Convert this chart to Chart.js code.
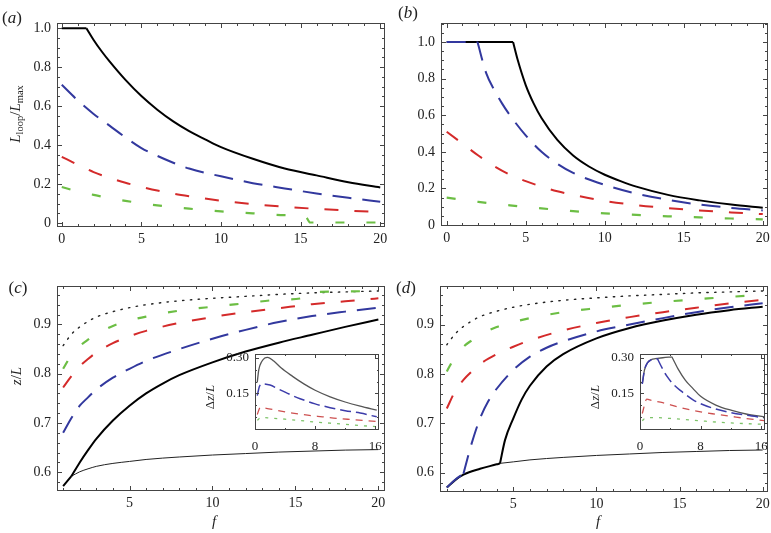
<!DOCTYPE html>
<html>
<head>
<meta charset="utf-8">
<script src="https://cdn.jsdelivr.net/npm/chart.js@4/dist/chart.umd.min.js"></script>
<style>
  body { margin: 0; background: #fff; width: 771px; height: 533px; position: relative; overflow: hidden; font-family: "Liberation Serif", serif; color: #222; }
  canvas { position: absolute; }
  .lbl { position: absolute; white-space: nowrap; transform: translate(-50%, -50%); line-height: 1; }
  .rot { transform: translate(-50%, -50%) rotate(-90deg); }
  sub { font-size: 70%; vertical-align: -0.25em; }
</style>
</head>
<body>
<canvas id="pa" width="388" height="265" style="left:0;top:0"></canvas>
<canvas id="pb" width="383" height="265" style="left:388px;top:0"></canvas>
<canvas id="pc" width="388" height="268" style="left:0;top:265px"></canvas>
<canvas id="pd" width="383" height="268" style="left:388px;top:265px"></canvas>
<canvas id="ic" width="177" height="110" style="left:205px;top:345px"></canvas>
<canvas id="id" width="178" height="110" style="left:590px;top:345px"></canvas>

<div class="lbl" style="left:12px;top:17px;font-size:17px">(<i>a</i>)</div>
<div class="lbl" style="left:408px;top:12px;font-size:17px">(<i>b</i>)</div>
<div class="lbl" style="left:18px;top:287px;font-size:17px">(<i>c</i>)</div>
<div class="lbl" style="left:406px;top:287px;font-size:17px">(<i>d</i>)</div>
<div class="lbl rot" style="left:17px;top:114px;font-size:15px"><i>L</i><sub>loop</sub>/<i>L</i><sub>max</sub></div>
<div class="lbl rot" style="left:16px;top:376px;font-size:15px"><i>z</i>/<i>L</i></div>
<div class="lbl" style="left:214px;top:521px;font-size:15px"><i>f</i></div>
<div class="lbl" style="left:598px;top:521px;font-size:15px"><i>f</i></div>
<div class="lbl rot" style="left:209px;top:397px;font-size:13px">Δ<i>z</i>/<i>L</i></div>
<div class="lbl rot" style="left:594px;top:397px;font-size:13px">Δ<i>z</i>/<i>L</i></div>

<script>
// ---- panel (a): L_loop / L_max vs f ----
const aBlackF = [0, 1.55, 2, 2.5, 3, 4, 5, 6, 7, 8, 9, 10, 12, 14, 16, 18, 20];
const aBlackL = [1, 1, 0.94, 0.882, 0.83, 0.735, 0.652, 0.582, 0.522, 0.472, 0.43, 0.39, 0.33, 0.28, 0.245, 0.21, 0.183];
const aBlueF = [0, 1, 2, 3, 4, 5, 6, 7, 8, 10, 12, 14, 16, 18, 20];
const aBlueL = [0.71, 0.63, 0.56, 0.5, 0.44, 0.385, 0.345, 0.31, 0.28, 0.24, 0.205, 0.178, 0.152, 0.13, 0.11];
const aRedF = [0, 1, 2, 3, 4, 5, 6, 7, 8, 10, 12, 14, 16, 18, 20];
const aRedL = [0.34, 0.3, 0.262, 0.232, 0.207, 0.186, 0.167, 0.151, 0.138, 0.115, 0.097, 0.084, 0.073, 0.064, 0.056];
const aGreenF = [0, 1, 2, 3, 4, 5, 6, 7, 8, 10, 12, 14, 15.3, 15.6, 16, 18, 20];
const aGreenL = [0.185, 0.163, 0.145, 0.128, 0.114, 0.102, 0.091, 0.082, 0.074, 0.06, 0.05, 0.041, 0.034, 0.003, 0.003, 0.003, 0.003];

// ---- panel (b) ----
const bBlackF = [0, 4.2, 4.5, 5, 5.5, 6, 7, 8, 9, 10, 11, 12, 14, 16, 18, 20];
const bBlackL = [1, 1, 0.9, 0.765, 0.665, 0.585, 0.465, 0.38, 0.32, 0.275, 0.24, 0.21, 0.165, 0.135, 0.112, 0.095];
const bBlueF = [0, 1.95, 2.5, 3, 3.5, 4, 5, 6, 7, 8, 10, 12, 14, 16, 18, 20];
const bBlueL = [1, 1, 0.83, 0.74, 0.665, 0.6, 0.49, 0.4, 0.335, 0.285, 0.22, 0.172, 0.138, 0.112, 0.094, 0.08];
const bRedF = [0, 1, 2, 3, 4, 5, 6, 7, 8, 10, 12, 14, 16, 18, 20];
const bRedL = [0.51, 0.445, 0.38, 0.322, 0.275, 0.24, 0.21, 0.185, 0.165, 0.132, 0.109, 0.093, 0.08, 0.069, 0.06];
const bGreenF = [0, 2, 4, 6, 8, 10, 12, 14, 16, 18, 20];
const bGreenL = [0.15, 0.127, 0.108, 0.091, 0.076, 0.064, 0.056, 0.048, 0.042, 0.036, 0.031];

// ---- panel (c): z/L vs f ----
const cF = [1, 1.5, 2, 2.5, 3, 4, 5, 6, 8, 10, 12, 14, 16, 18, 20];
const cDotL = [0.857, 0.88, 0.895, 0.906, 0.915, 0.926, 0.934, 0.94, 0.948, 0.953, 0.957, 0.961, 0.964, 0.966, 0.968];
const cRedL = [0.772, 0.795, 0.815, 0.83, 0.843, 0.862, 0.876, 0.887, 0.903, 0.915, 0.925, 0.933, 0.941, 0.947, 0.953];
const cBlueL = [0.68, 0.71, 0.735, 0.752, 0.768, 0.792, 0.81, 0.826, 0.85, 0.871, 0.889, 0.905, 0.917, 0.926, 0.934];
const cGreenF = [1, 1.5, 2, 2.5, 3, 4, 5, 6, 8, 10, 12, 14, 15.6, 15.9, 18, 20];
const cGreenL = [0.81, 0.838, 0.856, 0.869, 0.88, 0.897, 0.908, 0.916, 0.928, 0.936, 0.943, 0.95, 0.955, 0.965, 0.967, 0.968];
const cBlackF = [1, 1.5, 2, 2.5, 3, 4, 5, 6, 7, 8, 10, 12, 14, 16, 18, 20];
const cBlackL = [0.572, 0.592, 0.62, 0.645, 0.668, 0.705, 0.735, 0.76, 0.78, 0.797, 0.823, 0.845, 0.863, 0.879, 0.895, 0.91];
const cThinF = [1.5, 2, 2.5, 3, 4, 5, 6, 8, 10, 12, 14, 16, 18, 20];
const cThinL = [0.592, 0.601, 0.607, 0.612, 0.618, 0.622, 0.626, 0.631, 0.635, 0.638, 0.641, 0.643, 0.645, 0.646];

// ---- panel (d) ----
const dF = [1, 1.5, 2, 2.5, 3, 4, 5, 6, 8, 10, 12, 14, 16, 18, 20];
const dDotL = [0.859, 0.881, 0.896, 0.907, 0.916, 0.927, 0.935, 0.941, 0.949, 0.954, 0.958, 0.961, 0.964, 0.966, 0.968];
const dGreenL = [0.805, 0.835, 0.855, 0.868, 0.879, 0.895, 0.905, 0.913, 0.925, 0.933, 0.94, 0.946, 0.951, 0.956, 0.96];
const dRedL = [0.73, 0.765, 0.788, 0.805, 0.82, 0.84, 0.855, 0.868, 0.888, 0.903, 0.915, 0.925, 0.934, 0.943, 0.95];
const dBlueF = [1, 1.5, 2, 2.25, 2.5, 3, 3.5, 4, 5, 6, 7, 8, 10, 12, 14, 16, 18, 20];
const dBlueL = [0.57, 0.586, 0.598, 0.63, 0.66, 0.71, 0.745, 0.77, 0.808, 0.835, 0.853, 0.866, 0.886, 0.9, 0.913, 0.925, 0.935, 0.943];
const dBlackF = [1, 1.5, 2, 3, 4, 4.2, 4.5, 5, 5.5, 6, 7, 8, 10, 12, 14, 16, 18, 20];
const dBlackL = [0.57, 0.585, 0.596, 0.608, 0.617, 0.619, 0.666, 0.71, 0.748, 0.776, 0.815, 0.84, 0.872, 0.893, 0.908, 0.92, 0.929, 0.936];
const dThinF = [4.2, 5, 6, 8, 10, 12, 14, 16, 18, 20];
const dThinL = [0.619, 0.622, 0.626, 0.631, 0.635, 0.638, 0.641, 0.643, 0.645, 0.646];

// ---- insets: delta z / L ----
const icBlackF = [0.3, 0.5, 0.9, 1.3, 1.7, 2.5, 3.5, 5, 6.5, 8, 10, 12, 14, 16.2];
const icBlackL = [0.196, 0.25, 0.285, 0.3, 0.303, 0.287, 0.257, 0.222, 0.19, 0.163, 0.135, 0.113, 0.095, 0.078];
const icBlueF = [0.3, 0.6, 1, 2, 3, 4, 5, 6, 8, 10, 12, 14, 16.2];
const icBlueL = [0.14, 0.18, 0.19, 0.185, 0.17, 0.155, 0.14, 0.127, 0.105, 0.089, 0.076, 0.066, 0.05];
const icRedF = [0.3, 0.7, 1.5, 3, 5, 7, 9, 11, 13, 16.2];
const icRedL = [0.06, 0.09, 0.086, 0.077, 0.066, 0.057, 0.05, 0.043, 0.038, 0.03];
const icGreenF = [0.3, 0.8, 2, 4, 6, 8, 10, 12, 14, 16.2];
const icGreenL = [0.035, 0.047, 0.045, 0.04, 0.034, 0.028, 0.023, 0.018, 0.013, 0.008];

const idBlackF = [0.3, 0.6, 1, 1.5, 2, 3, 4.2, 4.6, 5, 6, 7, 8, 10, 12, 14, 16.4];
const idBlackL = [0.19, 0.25, 0.28, 0.293, 0.297, 0.301, 0.305, 0.28, 0.255, 0.205, 0.17, 0.137, 0.1, 0.078, 0.062, 0.05];
const idBlueF = [0.3, 0.6, 1, 1.5, 2.3, 2.8, 3.5, 4.5, 5.5, 7, 8, 10, 12, 14, 16.4];
const idBlueL = [0.19, 0.25, 0.28, 0.293, 0.297, 0.265, 0.225, 0.185, 0.158, 0.122, 0.106, 0.083, 0.068, 0.057, 0.046];
const idRedF = [0.3, 0.9, 1.5, 3, 5, 8, 10, 12, 14, 16.4];
const idRedL = [0.064, 0.125, 0.12, 0.11, 0.092, 0.071, 0.061, 0.052, 0.043, 0.034];
const idGreenF = [0.3, 0.8, 2, 4, 6, 8, 10, 12, 14, 16.4];
const idGreenL = [0.033, 0.047, 0.047, 0.043, 0.038, 0.033, 0.028, 0.024, 0.021, 0.018];

// tick labels
const fTicksTop = [0, 5, 10, 15, 20];
const fTicksBottom = [5, 10, 15, 20];
const loopTicks = [0, 0.2, 0.4, 0.6, 0.8, 1.0];
const zTicks = [0.6, 0.7, 0.8, 0.9];
const insetFTicks = [0, 8, 16];
const insetDzTicks = [0, 0.15, 0.3];

const BLUE = 'rgb(50,56,158)';
const RED = 'rgb(212,42,42)';
const GREEN = 'rgb(108,190,68)';
const FONT = '"Liberation Serif", "Times New Roman", serif';

const black = { borderColor: '#000', borderWidth: 2 };
const thin = { borderColor: '#222', borderWidth: 1 };
const dotted = { borderColor: '#222', borderWidth: 1.4, borderDash: [1.4, 6.4], borderCapStyle: 'round' };
const blue = { borderColor: BLUE, borderWidth: 2, borderDash: [19, 11] };
const red = { borderColor: RED, borderWidth: 2, borderDash: [14, 16] };
const green = { borderColor: GREEN, borderWidth: 2.2, borderDash: [9, 22] };
const iBlack = { borderColor: '#555', borderWidth: 1.3 };
const iBlue = { borderColor: 'rgb(60,60,170)', borderWidth: 1.5, borderDash: [11, 5] };
const iRed = { borderColor: 'rgb(205,80,80)', borderWidth: 1.3, borderDash: [7, 6] };
const iGreen = { borderColor: 'rgb(125,195,105)', borderWidth: 1.3, borderDash: [3, 6] };

// one curve, broken into separate splines at kink indices
function series(fs, ls, style, kinks = []) {
  const cuts = [0, ...kinks, fs.length - 1];
  const out = [];
  for (let i = 0; i < cuts.length - 1; i++) {
    const pts = [];
    for (let j = cuts[i]; j <= cuts[i + 1]; j++) pts.push({ x: fs[j], y: ls[j] });
    out.push(Object.assign({ data: pts, showLine: true, fill: false, pointRadius: 0,
      cubicInterpolationMode: 'monotone' }, style));
  }
  return out;
}

// Mathematica-like frame with inward ticks on all four sides
const frameTicks = {
  id: 'frameTicks',
  beforeDraw(chart, args, opts) {
    if (!opts.fill) return;
    const a = chart.chartArea, ctx = chart.ctx;
    ctx.save();
    ctx.fillStyle = '#fff';
    ctx.fillRect(a.left, a.top, a.right - a.left, a.bottom - a.top);
    ctx.restore();
  },
  afterDraw(chart, args, opts) {
    const { ctx, chartArea: a, scales } = chart;
    ctx.save();
    ctx.strokeStyle = '#444';
    ctx.lineWidth = 1;
    ctx.strokeRect(a.left + 0.5, a.top + 0.5, a.right - a.left - 1, a.bottom - a.top - 1);
    const mark = (scale, v, len) => {
      const p = Math.round(scale.getPixelForValue(v)) + 0.5;
      ctx.beginPath();
      if (scale.isHorizontal()) {
        if (p < a.left || p > a.right) return;
        ctx.moveTo(p, a.bottom); ctx.lineTo(p, a.bottom - len);
        ctx.moveTo(p, a.top); ctx.lineTo(p, a.top + len);
      } else {
        if (p < a.top || p > a.bottom) return;
        ctx.moveTo(a.left, p); ctx.lineTo(a.left + len, p);
        ctx.moveTo(a.right, p); ctx.lineTo(a.right - len, p);
      }
      ctx.stroke();
    };
    for (const key of ['x', 'y']) {
      const s = scales[key];
      const step = opts[key + 'Minor'];
      if (step) {
        const n0 = Math.ceil(s.min / step - 1e-9), n1 = Math.floor(s.max / step + 1e-9);
        for (let n = n0; n <= n1; n++) mark(s, n * step, opts.minorLen);
      }
      s.ticks.forEach(t => mark(s, t.value, opts.len));
    }
    ctx.restore();
  }
};

function axis(min, max, ticks, fmt, size, fontSize, pad) {
  return {
    type: 'linear', min, max,
    grid: { display: false, drawTicks: false },
    border: { display: false },
    ticks: { autoSkip: false, maxRotation: 0, padding: pad, color: '#222',
      font: { family: FONT, size: fontSize }, callback: fmt },
    afterBuildTicks: s => { s.ticks = ticks.map(v => ({ value: v })); },
    afterFit: s => {
      if (s.isHorizontal()) s.height = size; else s.width = size;
      s.paddingLeft = 0; s.paddingRight = 0; s.paddingTop = 0; s.paddingBottom = 0;
    }
  };
}

// first dataset in the list is drawn on top
function panel(id, datasets, x, y, pad, tickOpts) {
  new Chart(document.getElementById(id), {
    type: 'scatter',
    data: { datasets },
    options: {
      responsive: false, animation: false, events: [],
      layout: { padding: pad },
      plugins: { legend: { display: false }, tooltip: { enabled: false }, frameTicks: tickOpts },
      scales: { x, y }
    },
    plugins: [frameTicks]
  });
}

const fmtLoop = v => (v === 0 ? '0' : v.toFixed(1));
const fmtInt = v => String(v);
const fmtZ = v => v.toFixed(1);
const fmtDz = v => (v === 0 ? '' : v.toFixed(2));

panel('pa', [
  ...series(aBlackF, aBlackL, black, [1]),
  ...series(aBlueF, aBlueL, blue),
  ...series(aRedF, aRedL, red),
  ...series(aGreenF, aGreenL, green)
], axis(-0.3, 20.3, fTicksTop, fmtInt, 38, 14, 4),
   axis(-0.02, 1.027, loopTicks, fmtLoop, 57, 14, 6),
   { top: 23, left: 0, right: 3, bottom: 0 },
   { xMinor: 1, yMinor: 0.05, len: 5, minorLen: 3 });

panel('pb', [
  ...series(bBlueF, bBlueL, blue, [1]),
  ...series(bBlackF, bBlackL, black, [1]),
  ...series(bRedF, bRedL, red),
  ...series(bGreenF, bGreenL, green)
], axis(-0.36, 20.33, fTicksTop, fmtInt, 39, 14, 4),
   axis(-0.005, 1.104, loopTicks, fmtLoop, 53, 14, 6),
   { top: 23, left: 0, right: 3, bottom: 0 },
   { xMinor: 1, yMinor: 0.05, len: 5, minorLen: 3 });

panel('pc', [
  ...series(cBlackF, cBlackL, black, [1]),
  ...series(cThinF, cThinL, thin),
  ...series(cF, cBlueL, blue),
  ...series(cF, cRedL, red),
  ...series(cGreenF, cGreenL, green),
  ...series(cF, cDotL, dotted)
], axis(0.63, 20.4, fTicksBottom, fmtInt, 42, 14, 4),
   axis(0.562, 0.978, zTicks, fmtZ, 57, 14, 6),
   { top: 21, left: 0, right: 3, bottom: 0 },
   { xMinor: 1, yMinor: 0.02, len: 5, minorLen: 3 });

panel('pd', [
  ...series(dBlueF, dBlueL, blue, [2]),
  ...series(dBlackF, dBlackL, black, [5]),
  ...series(dThinF, dThinL, thin),
  ...series(dF, dRedL, red),
  ...series(dF, dGreenL, green),
  ...series(dF, dDotL, dotted)
], axis(0.59, 20.32, fTicksBottom, fmtInt, 41, 14, 4),
   axis(0.561, 0.978, zTicks, fmtZ, 52, 14, 6),
   { top: 21, left: 0, right: 3, bottom: 0 },
   { xMinor: 1, yMinor: 0.02, len: 5, minorLen: 3 });

panel('ic', [
  ...series(icBlackF, icBlackL, iBlack),
  ...series(icBlueF, icBlueL, iBlue),
  ...series(icRedF, icRedL, iRed),
  ...series(icGreenF, icGreenL, iGreen)
], axis(0, 16.5, insetFTicks, fmtInt, 25, 13, 9),
   axis(-0.006, 0.317, insetDzTicks, fmtDz, 50, 13, 6),
   { top: 9, left: 0, right: 3, bottom: 0 },
   { fill: true, xMinor: 4, yMinor: 0.05, len: 4, minorLen: 2 });

panel('id', [
  ...series(idBlueF, idBlueL, iBlue, [4]),
  ...series(idBlackF, idBlackL, iBlack, [6]),
  ...series(idRedF, idRedL, iRed),
  ...series(idGreenF, idGreenL, iGreen)
], axis(0, 16.5, insetFTicks, fmtInt, 25, 13, 9),
   axis(-0.006, 0.317, insetDzTicks, fmtDz, 50, 13, 6),
   { top: 9, left: 0, right: 3, bottom: 0 },
   { fill: true, xMinor: 4, yMinor: 0.05, len: 4, minorLen: 2 });
</script>
</body>
</html>
